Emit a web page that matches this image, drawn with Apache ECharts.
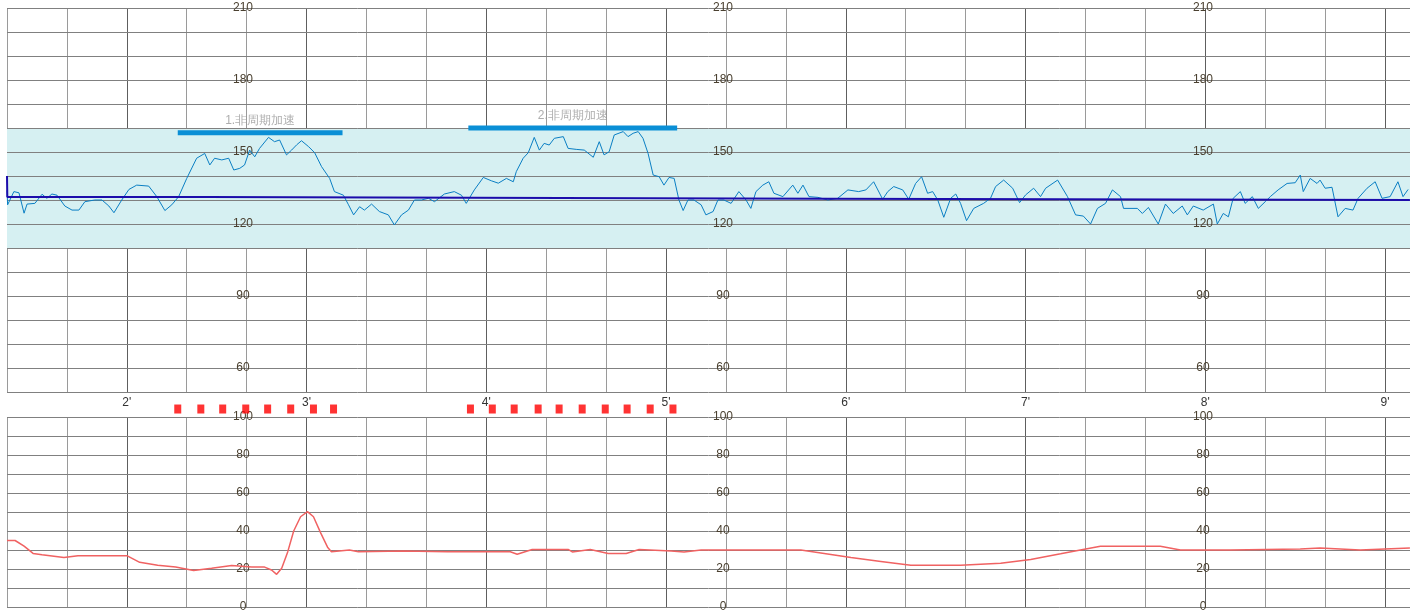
<!DOCTYPE html>
<html><head><meta charset="utf-8">
<script src="https://cdn.jsdelivr.net/npm/echarts@6/dist/echarts.min.js"></script>
<style>html,body{margin:0;padding:0;background:#fff}#c{width:1410px;height:614px}</style>
</head><body><div id="c"></div>
<script>
// time in seconds
const fhrTime = [80,80.2,82.3,84,85.7,86.7,89.3,91.7,93.3,95,96.7,99.3,101.7,104,106,109.3,111.7,114,115.7,118.3,120.7,123.3,127.3,130,132.7,135,137.3,140,143.3,146,147.7,149.3,151.7,154,155.7,157.7,159.3,161,162.7,164.3,167.3,169.3,171,173.3,175,176.7,178.3,180.7,182.7,185,187.7,189.3,192.3,194,195.7,197.7,199.3,201.7,204.3,207.3,209.3,211.7,214,216,218.3,220.7,222.7,226,229.3,231.7,233.3,236,239,241.7,244,246.7,249,250,252.3,254,256,257.7,259.3,261,262.7,265.7,267.3,270,272.7,275.7,277.7,279.3,281,282.7,285.7,287.3,289,290.7,292.3,294,295.7,297.7,299.3,301,302.7,304.3,305.7,307.3,309.3,311.7,313.3,315.7,317.3,319.3,321.7,324.3,326.7,328.3,330,332.3,334.3,336,339,342.3,344,345.7,347.7,350.7,354,357.3,360.7,364.3,366.7,369.3,372.3,374,376,379,381,383.3,385.3,387.3,389,390.7,392.7,395,396.7,398.3,400.3,402.7,406,408.3,410,412.7,415.7,418,420,422.7,425,426.7,430.7,434,436.7,439.3,441.7,444,446.7,449,451.7,452.7,457.3,459,461,464.3,466.7,469.3,472.3,474,476,479.3,482.7,484,486,487.7,489.3,491.7,493.3,495.7,497.7,500,501.7,504.3,507.3,510,511.7,512.7,515,517.3,518.3,520,522.3,524.3,526.7,529.3,531,534,536.7,539,541.7,544.3,546,547.7];
const fhrValue = [134,128,133.5,133,124.5,128.3,128.6,132.4,130.7,132.5,132,127.5,125.8,125.8,129.3,130,130,127.5,124.7,130,134.4,136.2,135.8,131.4,125.6,128,131.4,139,147.4,149.4,144.6,147.4,146.7,147.4,142.5,143.2,144.6,150.8,148,151.5,156.1,154.3,155,148.8,150.8,153,154.7,152.2,149.7,143.9,139,133.5,132,128,123.8,127.2,125.8,128.3,125.2,123.8,119.6,123.8,125.8,130,130,130.7,129.3,132.5,133.5,132,128.6,134.2,139.4,138,137,139,137.6,141.8,147.4,149.7,156.1,150.8,153.6,152.9,155.7,156.4,151.5,151.1,150.8,147.8,154.3,148.8,150.1,157.1,158.5,156.4,157.8,158.5,155.7,149.4,140.4,139.7,136.2,139.4,139,130,125.6,130,130,128,123.8,125.2,130,130,128.6,133.5,130,126.5,133.5,136.2,137.6,132.8,131.4,136.2,132.8,136.2,131.4,131.1,130,130.7,134.2,133.5,134.2,137.6,130.3,133.5,135.6,134.2,130.3,136.9,139.7,132.8,133.5,130,122.8,130.7,132.5,128.6,121.4,126.5,128.6,130.7,135.6,138.3,134.9,128.9,132.1,134.9,131.4,134.9,138.3,131.4,123.8,123.3,120,126.5,128.6,134.2,131.4,126.5,126.5,124.4,126.9,120,128.3,124.4,127.5,123.8,127.5,125.8,128.3,120,124.4,123,130.7,133.5,128.6,131.4,126.5,129.3,131.4,134.2,136.9,137.2,140.4,133.5,139,136.9,138.3,134.9,135.3,123,126.5,125.8,130.7,134.9,137.6,130.7,131.4,137.6,131.4,134.4];
const ucTime = [80,82.7,85.7,88.7,91.7,99,103.7,117,120,124.3,130.3,136.3,142.3,148.3,155,161.7,166,168.3,170,171.7,173.7,175.7,178,180.3,182.3,184.7,187,188.3,194.3,197.3,212.3,227,248,250.3,255.3,267.3,268.7,274.7,280.7,286.7,291,301.7,306,311.7,345,361.7,371.7,381.7,398.3,411.7,421.7,431.7,438.3,445,465,471.7,488.3,511.7,518.3,531.7,548.3];
const ucValue = [35,35,32,28.2,27.5,26,27,27,27,23.5,22,21,19.2,20.4,21.8,21,21,19.5,17.2,20.4,29,40,47.5,50.2,47.5,39,31.5,29.1,30,29.1,29.5,29.1,29.1,27.8,30.3,30.3,29,30.3,28.2,28.2,30.3,29.5,29,30,30,26,24,22,22,23,25,28,30,32,32,30,30,30.5,31,30,31];
const baseTime = [80,80.1,146.7,146.7,354,354,548.3];
const baseValue = [140,131.3,131.3,130.5,130.5,130,130];
const accels = [[137,192,158,'1.非周期加速'],[234,303.7,160,'2.非周期加速']];
const markTimes = [137,144.7,152,159.7,167,174.7,182.3,189,234.7,242,249.3,257.3,264.3,272,279.7,287,294.7,302.3];
const bandRange = [110,160];
const xMin = 80, xMax = 548.33;
const labelOffsets = [236,716,1196];

const split3 = ['#9a9a9a','#9a9a9a','#5e5e5e'];
function xAx(gi, showLabel){
  return {type:'value', gridIndex:gi, min:xMin, max:xMax, interval:20,
    axisLine:{show:false}, axisTick:{show:false},
    axisLabel:{show:showLabel, margin:5, fontSize:12, color:'#333', showMinLabel:false, showMaxLabel:false,
      formatter:v=> (Math.round(v)%60===0 ? (Math.round(v)/60)+"'" : '')},
    splitLine:{show:true, lineStyle:{color:split3, width:1}}};
}
function yAxes(gi,min,max,intv,labStep){
  return labelOffsets.map((o,i)=>({type:'value', gridIndex:gi, min, max, interval:intv, position:'left', offset:-o, z:20,
    axisLine:{show:false}, axisTick:{show:false},
    axisLabel:{margin:0, align:'center', fontSize:12, color:'#4a4030', formatter:v=>(v%labStep===0? v:'')},
    splitLine:{show:i===0, lineStyle:{color:'#808080', width:1}}}));
}
const accelSeries = accels.map(a=>({type:'line', xAxisIndex:0, yAxisIndex:0, data:[[a[0],a[2]],[a[1],a[2]]],
  symbol:'none', lineStyle:{color:'#0a8fd6', width:5}, silent:true, z:32}));
const accelLabels = {type:'scatter', xAxisIndex:0, yAxisIndex:0, symbolSize:1, itemStyle:{color:'transparent'},
  data: accels.map(a=>({value:[(a[0]+a[1])/2,a[2]], name:a[3]})),
  label:{show:true, position:'top', distance:6, formatter:p=>p.name, color:'#999', fontSize:12}, z:33};

const chart = echarts.init(document.getElementById('c'));
chart.setOption({
  animation:false,
  grid:[{left:7,right:0,top:8,height:384},{left:7,right:0,top:417,height:190}],
  xAxis:[xAx(0,true), xAx(1,false)],
  yAxis:[...yAxes(0,50,210,10,30), ...yAxes(1,0,100,10,20)],
  series:[
    {type:'line', xAxisIndex:0, yAxisIndex:0, data:[], z:0, markArea:{silent:true, z:0, itemStyle:{color:'#d6f0f2'}, data:[[{yAxis:bandRange[0]},{yAxis:bandRange[1]}]]}},
    {type:'line', xAxisIndex:0, yAxisIndex:0, data:fhrTime.map((t,i)=>[t,fhrValue[i]]), symbol:'none', lineStyle:{color:'#0a7fc4', width:1}, z:30},
    {type:'line', xAxisIndex:0, yAxisIndex:0, data:baseTime.map((t,i)=>[t,baseValue[i]]), symbol:'none', lineStyle:{color:'#1c0cab', width:2}, z:31},
    ...accelSeries, accelLabels,
    {type:'scatter', xAxisIndex:1, yAxisIndex:3, clip:false, symbol:'rect', symbolSize:[7,9], itemStyle:{color:'#ff0000'}, z:30,
      data:markTimes.map(t=>[t,104.2])},
    {type:'line', xAxisIndex:1, yAxisIndex:3, data:ucTime.map((t,i)=>[t,ucValue[i]]), symbol:'none', lineStyle:{color:'#f06262', width:1.5}, z:30}
  ]
});
</script></body></html>
